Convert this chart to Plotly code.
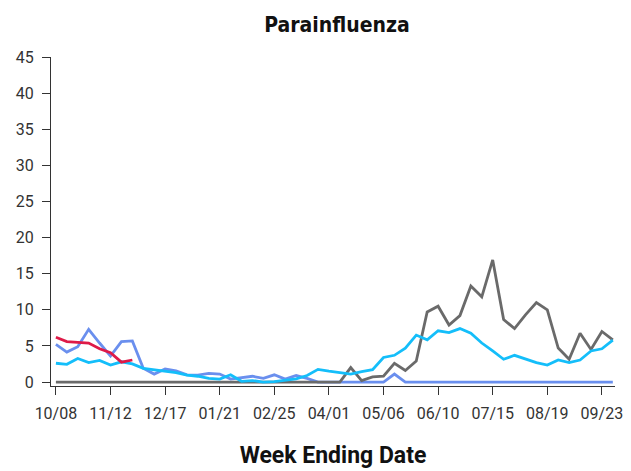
import pandas as pd
import plotly.graph_objects as go

# Week-ending dates (categories)
week_ending = pd.date_range("2022-10-08", periods=52, freq="7D").strftime("%m/%d").tolist()
tick_labels = ["10/08", "11/12", "12/17", "01/21", "02/25", "04/01",
               "05/06", "06/10", "07/15", "08/19", "09/23"]

y_ticks = [0, 5, 10, 15, 20, 25, 30, 35, 40, 45]

gray_vals = [0, 0, 0, 0, 0, 0, 0, 0, 0, 0,
             0, 0, 0, 0, 0, 0, 0, 0, 0, 0,
             0, 0, 0, 0, 0, 0, 0, 2.0, 0.2, 0.7,
             0.8, 2.6, 1.6, 2.9, 9.7, 10.5, 7.9, 9.2, 13.3, 11.8,
             16.9, 8.65, 7.4, 9.3, 11.0, 10.0, 4.7, 3.15, 6.75, 4.5,
             7.0, 5.85]

cyan_vals = [2.6, 2.45, 3.25, 2.7, 3.0, 2.35, 2.8, 2.5, 1.9, 1.7,
             1.5, 1.3, 0.95, 0.8, 0.5, 0.4, 1.0, 0.1, 0.2, 0.0,
             0.05, 0.2, 0.45, 0.9, 1.75, 1.5, 1.25, 1.1, 1.45, 1.7,
             3.4, 3.7, 4.7, 6.5, 5.85, 7.1, 6.85, 7.4, 6.75, 5.4,
             4.3, 3.15, 3.7, 3.15, 2.7, 2.35, 3.05, 2.7, 3.05, 4.3,
             4.6, 5.8]

blue_vals = [5.2, 4.15, 4.9, 7.3, 5.4, 3.6, 5.6, 5.7, 1.9, 1.1,
             1.8, 1.55, 1.0, 0.95, 1.2, 1.1, 0.4, 0.55, 0.8, 0.5,
             1.0, 0.4, 0.9, 0.5, 0, 0, 0, 0, 0, 0,
             0, 1.1, 0, 0, 0, 0, 0, 0, 0, 0,
             0, 0, 0, 0, 0, 0, 0, 0, 0, 0,
             0, 0]

red_vals = [6.2, 5.6, 5.5, 5.4, 4.6, 4.05, 2.75, 3.05]

series = [
    (blue_vals, "#6A8FEE"),
    (gray_vals, "#6A6A6A"),
    (cyan_vals, "#14BEFA"),
    (red_vals, "#DE1A48"),
]

fig = go.Figure()
for vals, color in series:
    fig.add_trace(go.Scatter(
        x=week_ending[:len(vals)], y=vals, mode="lines",
        line=dict(color=color, width=2.8), hoverinfo="skip", showlegend=False,
    ))

axis_common = dict(
    showline=True, linecolor="#333333", linewidth=1.2,
    ticks="outside", ticklen=8, tickcolor="#333333", tickwidth=1.2,
    showgrid=False, zeroline=False,
    tickfont=dict(family="Roboto, sans-serif", size=16, color="#333333"),
)

# The page body adds an 8px margin, so the figure is sized/margined to compensate.
fig.update_layout(
    width=623, height=463,
    margin=dict(l=41, r=8, t=49, b=77),
    paper_bgcolor="white", plot_bgcolor="white",
    title=dict(text="<b>Parainfluenza</b>", x=0.528, xanchor="center", y=0.965, yanchor="middle",
               font=dict(family="DejaVu Sans Condensed, Liberation Sans Narrow, sans-serif",
                         size=21, color="#111111")),
    xaxis=dict(type="category", categoryorder="array", categoryarray=week_ending,
               range=[-0.45, 51.2], tickmode="array", tickvals=tick_labels, ticktext=tick_labels,
               ticklabelstandoff=5,
               title=dict(text="<b>Week Ending Date</b>", standoff=24,
                          font=dict(family="Roboto, sans-serif", size=23, color="#111111")),
               **axis_common),
    yaxis=dict(range=[-0.55, 45], tickmode="array", tickvals=y_ticks, ticklabelstandoff=5,
               **axis_common),
)

fig.write_html("out.html")
